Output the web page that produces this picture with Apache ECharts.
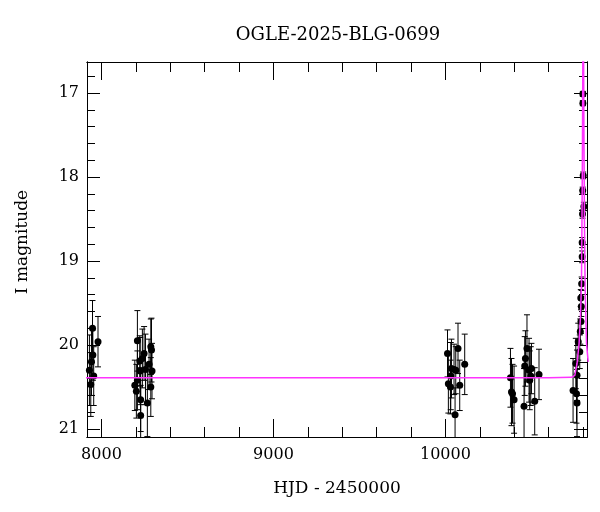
<!DOCTYPE html>
<html><head><meta charset="utf-8">
<script src="https://cdn.jsdelivr.net/npm/echarts@6/dist/echarts.min.js"></script>
<style>html,body{margin:0;padding:0;background:#fff}#c{width:600px;height:512px}</style>
</head><body><div id="c"></div>
<script>
const titleText = 'OGLE-2025-BLG-0699';
const xName = 'HJD - 2450000';
const yName = 'I magnitude';
const xRange = [7916, 10823];
const yRange = [16.63, 21.095];
const xMajorTicks = [8000, 9000, 10000];
const xMinorTicks = [8000, 8200, 8400, 8600, 8800, 9000, 9200, 9400, 9600, 9800, 10000, 10200, 10400, 10600, 10800];
const yMajorTicks = [17, 18, 19, 20, 21];
const yMinorTicks = [16.8, 17.0, 17.2, 17.4, 17.6, 17.8, 18.0, 18.2, 18.4, 18.6, 18.8, 19.0, 19.2, 19.4, 19.6, 19.8, 20.0, 20.2, 20.4, 20.6, 20.8, 21.0];

// [HJD-2450000, I mag, error]
const season2017 = [
  [7948, 19.80, 0.33], [7950, 20.12, 0.30], [7955, 20.37, 0.35], [7938, 20.47, 0.38],
  [7980, 19.96, 0.30], [7930, 20.30, 0.42], [7942, 20.20, 0.40]
];
const season2018 = [
  [8209, 19.95, 0.36], [8223, 20.19, 0.30], [8248, 20.10, 0.32], [8238, 20.16, 0.35],
  [8287, 20.02, 0.33], [8291, 20.06, 0.38], [8277, 20.23, 0.30], [8256, 20.29, 0.42],
  [8225, 20.31, 0.40], [8209, 20.42, 0.35], [8194, 20.48, 0.30], [8294, 20.31, 0.33],
  [8203, 20.55, 0.32], [8228, 20.65, 0.38], [8287, 20.50, 0.35], [8267, 20.69, 0.40],
  [8228, 20.84, 0.36]
];
const season2023 = [
  [10012, 20.10, 0.28], [10073, 20.04, 0.30], [10035, 20.28, 0.35], [10050, 20.29, 0.30],
  [10060, 20.30, 0.28], [10112, 20.23, 0.36], [10031, 20.37, 0.40], [10017, 20.46, 0.35],
  [10029, 20.50, 0.32], [10083, 20.48, 0.30], [10056, 20.83, 0.32]
];
const season2024 = [
  [10378, 20.39, 0.35], [10384, 20.56, 0.40], [10390, 20.58, 0.35], [10399, 20.65, 0.40],
  [10457, 20.73, 0.45], [10461, 20.25, 0.35], [10465, 20.16, 0.33], [10474, 20.04, 0.40],
  [10486, 20.30, 0.38], [10490, 20.42, 0.35], [10500, 20.28, 0.30], [10496, 20.37, 0.35],
  [10519, 20.67, 0.40], [10544, 20.35, 0.30]
];
const season2025 = [
  [10799, 17.01, 0.03], [10799, 17.12, 0.03], [10801, 17.98, 0.04], [10798, 18.16, 0.04],
  [10805, 18.35, 0.05], [10797, 18.44, 0.05], [10795, 18.78, 0.06], [10795, 18.95, 0.07],
  [10792, 19.27, 0.08], [10787, 19.44, 0.10], [10790, 19.54, 0.12], [10788, 19.72, 0.14],
  [10784, 19.84, 0.15], [10772, 19.96, 0.22], [10781, 20.08, 0.20], [10758, 20.22, 0.30],
  [10742, 20.54, 0.38], [10762, 20.58, 0.35], [10765, 20.36, 0.30], [10765, 20.69, 0.40]
];
const modelCurve = [
  [7900, 20.39], [10600, 20.39], [10733, 20.385], [10752, 20.36], [10765, 20.22],
  [10777, 19.98], [10785, 19.66], [10791, 19.26], [10794, 18.47], [10796.5, 17.68],
  [10799, 16.5], [10801, 15.8], [10803, 16.5], [10805, 17.4], [10808, 18.5],
  [10812, 19.3], [10820, 19.98], [10830, 20.2]
];

const observations = season2017.concat(season2018, season2023, season2024, season2025);

const FONT = 'DejaVu Serif';
const axisLineStyle = {show: true, lineStyle: {color: '#000', width: 1}};
const plainNum = function (v) { return String(v); };

function xAx(pos, ticks, len, labels) {
  return {
    type: 'value', position: pos, min: xRange[0], max: xRange[1],
    axisLine: axisLineStyle, splitLine: {show: false},
    axisTick: {show: true, inside: true, length: len, customValues: ticks, lineStyle: {color: '#000', width: 1}},
    axisLabel: labels ? {show: true, customValues: ticks, formatter: plainNum, margin: 10, color: '#000', fontFamily: FONT, fontSize: 16} : {show: false}
  };
}
function yAx(pos, ticks, len, labels) {
  return {
    type: 'value', position: pos, min: yRange[0], max: yRange[1], inverse: true,
    axisLine: axisLineStyle, splitLine: {show: false},
    axisTick: {show: true, inside: true, length: len, customValues: ticks, lineStyle: {color: '#000', width: 1}},
    axisLabel: labels ? {show: true, customValues: ticks, formatter: plainNum, margin: 8, color: '#000', fontFamily: FONT, fontSize: 16} : {show: false}
  };
}

const chart = echarts.init(document.getElementById('c'), null, {renderer: 'canvas'});
chart.setOption({
  animation: false,
  backgroundColor: '#fff',
  grid: {left: 87, right: 13, top: 62, bottom: 75, containLabel: false},
  xAxis: [
    xAx('bottom', xMajorTicks, 18, true),
    xAx('bottom', xMinorTicks, 10, false),
    xAx('top', xMajorTicks, 18, false),
    xAx('top', xMinorTicks, 10, false)
  ],
  yAxis: [
    yAx('left', yMajorTicks, 13, true),
    yAx('left', yMinorTicks, 8, false),
    yAx('right', yMajorTicks, 13, false),
    yAx('right', yMinorTicks, 8, false)
  ],
  graphic: [
    {type: 'text', x: 338, y: 35, style: {text: titleText, x: 0, y: 0, align: 'center', verticalAlign: 'middle', font: '18px "DejaVu Serif"', fill: '#000'}},
    {type: 'text', x: 337, y: 489, style: {text: xName, x: 0, y: 0, align: 'center', verticalAlign: 'middle', font: '17px "DejaVu Serif"', fill: '#000'}},
    {type: 'text', x: 23, y: 242, rotation: Math.PI / 2, style: {text: yName, x: 0, y: 0, align: 'center', verticalAlign: 'middle', font: '17px "DejaVu Serif"', fill: '#000'}}
  ],
  series: [
    {
      type: 'custom', xAxisIndex: 0, yAxisIndex: 0, clip: true, z: 2,
      data: observations,
      renderItem: function (params, api) {
        const x = api.value(0), y = api.value(1), e = api.value(2);
        const t = api.coord([x, y - e]);
        const b = api.coord([x, y + e]);
        const w = 3;
        const st = {stroke: '#000', lineWidth: 1};
        return {type: 'group', children: [
          {type: 'line', shape: {x1: t[0], y1: t[1], x2: b[0], y2: b[1]}, style: st},
          {type: 'line', shape: {x1: t[0] - w, y1: t[1], x2: t[0] + w, y2: t[1]}, style: st},
          {type: 'line', shape: {x1: b[0] - w, y1: b[1], x2: b[0] + w, y2: b[1]}, style: st}
        ]};
      }
    },
    {
      type: 'scatter', xAxisIndex: 0, yAxisIndex: 0, z: 3,
      data: observations.map(function (d) { return [d[0], d[1]]; }),
      symbol: 'circle', symbolSize: 7, itemStyle: {color: '#000', opacity: 1}
    },
    {
      type: 'line', xAxisIndex: 0, yAxisIndex: 0, z: 4, clip: true,
      data: modelCurve, showSymbol: false, symbol: 'none', smooth: false,
      lineStyle: {color: '#ff33ff', width: 1.5}
    }
  ]
});
</script></body></html>
